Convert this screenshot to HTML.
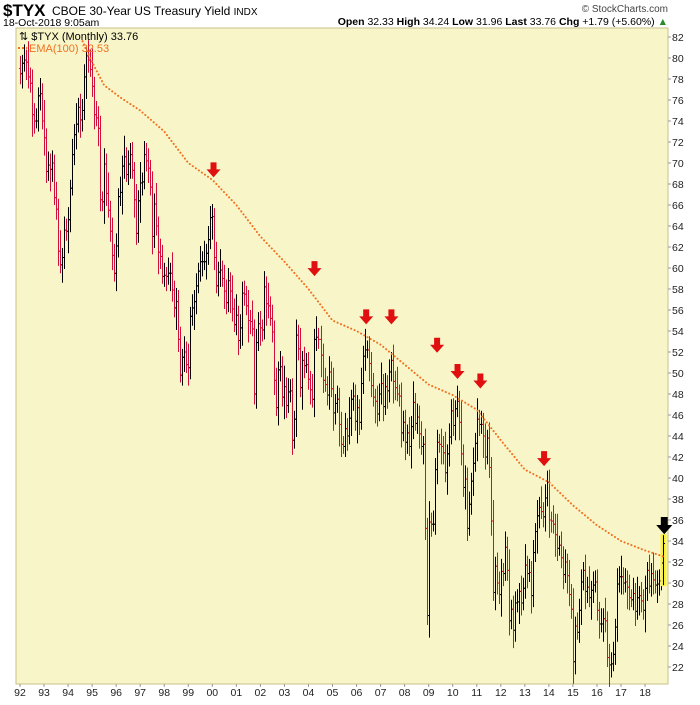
<!DOCTYPE html>
<html><head><meta charset="utf-8"><style>
body{margin:0;background:#fff;font-family:"Liberation Sans",sans-serif;}
svg text{font-family:"Liberation Sans",sans-serif;}
</style></head><body>
<svg id="chart" width="700" height="700" xmlns="http://www.w3.org/2000/svg">
<text x="3" y="16" font-size="17" font-weight="bold">$TYX</text>
<text x="52" y="15" font-size="12">CBOE 30-Year US Treasury Yield <tspan font-size="10">INDX</tspan></text>
<text x="3" y="26" font-size="10.5">18-Oct-2018 9:05am</text>
<text x="668" y="12" font-size="10" text-anchor="end" fill="#444">© StockCharts.com</text>
<text x="668" y="25" font-size="10.5" text-anchor="end"><tspan font-weight="bold">Open</tspan> 32.33 <tspan font-weight="bold">High</tspan> 34.24 <tspan font-weight="bold">Low</tspan> 31.96 <tspan font-weight="bold">Last</tspan> 33.76 <tspan font-weight="bold">Chg</tspan> +1.79 (+5.60%) <tspan fill="#2a8a2a">▲</tspan></text>
<rect x="16" y="28" width="652" height="656" fill="#f8f6c8" stroke="#c8c08a"/>
<g id="grid"></g><g id="bars"></g><g id="ema"></g><g id="arrows"></g><g id="yaxis"></g><g id="xaxis"></g>
<text x="19" y="40" font-size="11">⇅ $TYX (Monthly) 33.76</text>
<line x1="18" y1="48" x2="27" y2="48" stroke="#f07020" stroke-width="2" stroke-dasharray="2,2"/>
<text x="29" y="52" font-size="11" fill="#f07020">EMA(100) 32.53</text>
</svg>
<script>
const closes=[
78.5,79.5,79.8,79.6,78.2,77.6,74.6,74.0,74.0,76.4,76.6,74.0,
72.4,69.2,69.8,69.4,70.0,66.7,65.6,61.6,60.3,61.0,63.6,63.5,
64.6,67.6,70.8,72.7,73.7,75.3,74.1,75.0,78.2,80.2,79.8,78.9,
77.3,74.6,74.3,73.3,66.5,66.3,69.9,67.1,65.5,63.5,61.2,59.5,
62.1,66.8,67.2,69.7,70.6,68.9,69.9,70.8,69.3,66.5,63.3,66.4,
68.1,68.2,70.8,70.2,69.5,67.7,63.0,66.1,64.0,61.5,61.1,59.2,
59.3,59.2,59.5,59.5,57.9,56.2,56.8,53.2,49.8,51.5,52.0,50.8,
50.5,55.4,56.2,56.8,58.3,59.7,60.6,60.6,60.6,61.4,62.7,64.8,
64.9,61.0,58.3,59.6,59.8,59.0,57.8,56.7,58.8,57.8,56.1,54.6,
55.5,53.1,54.3,57.6,57.5,56.4,55.0,54.9,54.2,48.0,52.9,54.7,
54.3,54.1,58.2,56.6,56.4,55.2,53.9,49.3,46.7,50.3,50.6,47.7,
48.7,46.9,48.2,48.3,43.6,45.6,53.6,52.3,48.6,51.2,50.7,50.8,
49.4,48.4,47.5,53.2,53.4,53.2,51.7,49.3,48.9,47.9,50.1,48.5,
46.2,47.1,47.5,45.1,43.2,43.0,44.7,44.0,45.7,47.5,47.8,45.4,
46.7,45.3,49.0,51.6,52.2,52.2,50.9,48.8,47.7,47.3,46.1,48.0,
49.0,46.8,48.7,48.3,50.1,51.2,49.2,48.6,48.0,47.8,44.3,45.3,
43.4,44.3,43.0,44.9,47.2,45.2,45.8,44.2,43.0,43.2,35.2,26.9,
35.8,35.6,35.6,40.8,43.4,43.2,43.0,42.4,40.5,42.3,43.9,46.4,
45.0,46.6,47.3,45.3,42.3,39.1,39.9,35.2,37.5,39.7,41.4,43.3,
45.6,45.1,45.1,44.0,42.0,43.8,41.0,35.9,29.1,31.6,30.0,28.9,
31.1,30.9,33.4,31.2,26.4,27.5,25.5,28.1,28.2,29.2,28.1,29.5,
31.7,30.9,31.0,28.8,32.9,34.9,36.4,37.2,36.8,36.3,38.1,39.6,
36.0,35.9,35.6,34.6,33.3,33.6,32.4,30.8,32.0,30.7,28.9,27.5,
22.5,25.9,25.3,27.4,30.1,31.2,29.2,29.6,28.6,29.3,29.8,30.1,
27.4,26.1,26.1,26.6,26.4,22.9,22.2,22.3,23.2,25.8,29.9,30.6,
30.6,30.0,30.1,29.6,28.6,28.4,29.0,27.3,28.6,28.8,28.3,27.4,
29.5,31.2,29.7,30.9,30.3,29.8,29.9,30.2,31.9,33.76];
const highExtra=[1.2,0.8,1.5,1.0,2.0,0.9,1.3,1.1];
const lowExtra=[1.0,1.4,0.8,1.7,1.1,0.9,2.1,1.2,0.7];
const emaYears=[1994.6,1995.0,1995.5,1996.2,1997,1998,1999,2000,2001,2002,2003,2004,2005,2006,2007,2008,2009,2010,2011,2012,2013,2014,2015,2016,2017,2018,2018.8];
const emaValues=[81.6,79.6,77.4,76.2,75,73,70,68.4,66,63,60.6,58,55,54,52.7,50.8,48.9,47.9,46.5,43.6,40.8,39.6,37.4,35.5,34,33.1,32.5];
const arrowYears=[2000.05,2004.25,2006.4,2007.45,2009.35,2010.2,2011.15,2013.8,2018.8];
const arrowValues=[69.2,59.8,55.2,55.2,52.5,50.0,49.1,41.7,35.3];
const yTicks=[82,80,78,76,74,72,70,68,66,64,62,60,58,56,54,52,50,48,46,44,42,40,38,36,34,32,30,28,26,24,22];
const xLabels=['92','93','94','95','96','97','98','99','00','01','02','03','04','05','06','07','08','09','10','11','12','13','14','15','16','17','18'];
const NS='http://www.w3.org/2000/svg';
const X0=20, PXM=24.04/12;
const xM=i=>X0+i*PXM;
const xY=yr=>X0+(yr-1992)*24.04;
const yV=v=>37+(82-v)*10.5;
function mk(tag,attrs,parent){const e=document.createElementNS(NS,tag);for(const k in attrs)e.setAttribute(k,attrs[k]);document.getElementById(parent).appendChild(e);return e;}
yTicks.forEach(v=>{
  const t=mk('line',{x1:668,x2:671,y1:yV(v),y2:yV(v),stroke:'#999'},'yaxis');
  
  
  const l=mk('text',{x:672,y:yV(v)+4,'font-size':'10.5',fill:'#222'},'yaxis');
  l.textContent=v;
  
  
});
xLabels.forEach((s,i)=>{
  const l=mk('text',{x:xM(i*12),y:696,'font-size':'10.5','text-anchor':'middle',fill:'#222'},'xaxis');
  l.textContent=s;
  
  
  const t=mk('line',{x1:xM(i*12),x2:xM(i*12),y1:684,y2:687,stroke:'#999'},'xaxis');
  
  
});
closes.forEach((c,i)=>{
  const o=i>0?closes[i-1]:c+0.5;
  const h=Math.max(o,c)+highExtra[i%highExtra.length];
  const lo=Math.min(o,c)-lowExtra[i%lowExtra.length];
  const col=c<o?'#d0103a':'#000';
  const x=Math.round(xM(i))+0.5;
  const g=mk('g',{stroke:col,'stroke-width':1},'bars');
  
  
  if(i===closes.length-1){const r=document.createElementNS(NS,'rect');r.setAttribute('x',x-3);r.setAttribute('y',yV(h)-1);r.setAttribute('width',6);r.setAttribute('height',yV(lo)-yV(h)+2);r.setAttribute('fill','#f8f040');r.setAttribute('stroke','none');g.appendChild(r);}
  const a=document.createElementNS(NS,'line');a.setAttribute('x1',x);a.setAttribute('x2',x);a.setAttribute('y1',yV(h));a.setAttribute('y2',yV(lo));g.appendChild(a);
  const b=document.createElementNS(NS,'line');b.setAttribute('x1',x-1.5);b.setAttribute('x2',x);b.setAttribute('y1',yV(o));b.setAttribute('y2',yV(o));g.appendChild(b);
  const d=document.createElementNS(NS,'line');d.setAttribute('x1',x);d.setAttribute('x2',x+1.5);d.setAttribute('y1',yV(c));d.setAttribute('y2',yV(c));g.appendChild(d);
});
const pts=emaYears.map((yr,i)=>xY(yr)+','+yV(emaValues[i])).join(' ');
const cp=mk('clipPath',{id:'clip'},'ema');
const cr=document.createElementNS(NS,'rect');cr.setAttribute('x',16);cr.setAttribute('y',28);cr.setAttribute('width',652);cr.setAttribute('height',656);cp.appendChild(cr);
const em=mk('polyline',{points:pts,fill:'none',stroke:'#f07020','stroke-width':2,'stroke-dasharray':'0.1,3.6','stroke-linecap':'round','clip-path':'url(#clip)'},'ema');


arrowYears.forEach((yr,i)=>{
  const x=xY(yr), y=yV(arrowValues[i]);
  const black=i===arrowYears.length-1;
  const s=black?1.15:1;
  const p=mk('polygon',{points:`${x-3*s},${y-9*s} ${x+3*s},${y-9*s} ${x+3*s},${y-2*s} ${x+7*s},${y-2*s} ${x},${y+6*s} ${x-7*s},${y-2*s} ${x-3*s},${y-2*s}`,fill:black?'#000':'#e01010'},'arrows');
  
  
});
</script>
</body></html>
